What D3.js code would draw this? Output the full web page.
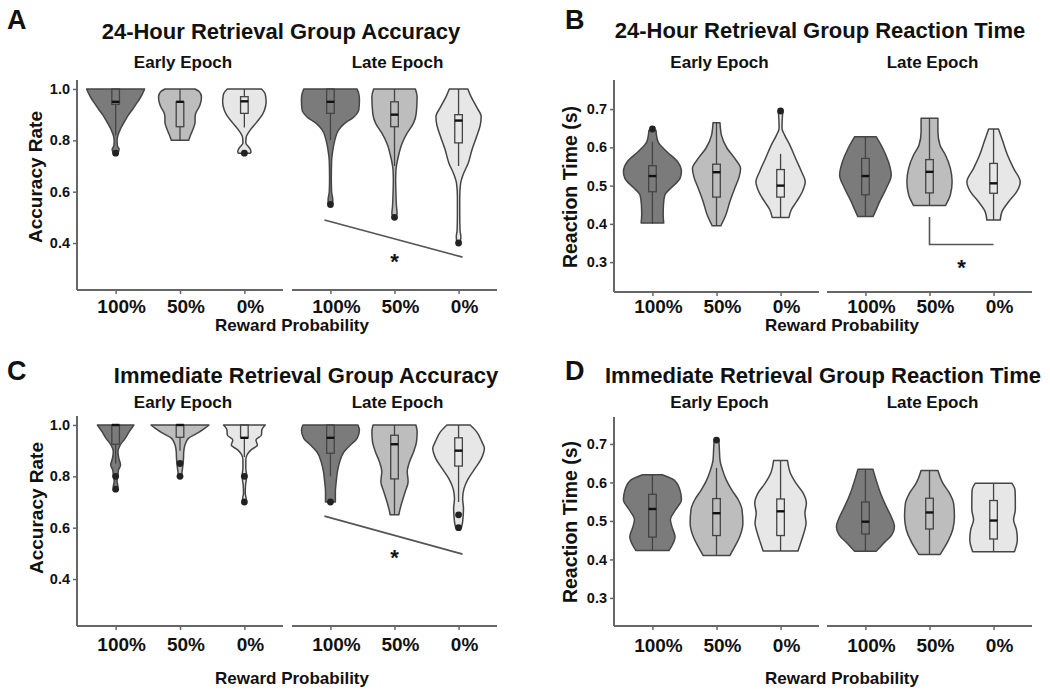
<!DOCTYPE html>
<html><head><meta charset="utf-8">
<script src="https://cdn.jsdelivr.net/npm/d3@7/dist/d3.min.js"></script>
<style>
html,body{margin:0;padding:0;background:#fff;}
svg text{font-family:"Liberation Sans",Arial,sans-serif;font-weight:bold;fill:#111;}
</style></head>
<body>
<svg id="chart" width="1050" height="693"></svg>
<script>
// ---------------- DATA ----------------
const rewardLevels = ["100%", "50%", "0%"];
const epochLevels = ["Early Epoch", "Late Epoch"];
const accuracyTicks = [0.4, 0.6, 0.8, 1.0];
const rtTicks = [0.3, 0.4, 0.5, 0.6, 0.7];
const panelTitles = ["24-Hour Retrieval Group Accuracy", "24-Hour Retrieval Group Reaction Time",
                     "Immediate Retrieval Group Accuracy", "Immediate Retrieval Group Reaction Time"];
const panelLetters = ["A", "B", "C", "D"];
const xTitle = "Reward Probability";
const yTitles = ["Accuracy Rate", "Reaction Time (s)", "Accuracy Rate", "Reaction Time (s)"];

// violin density profiles [value, relative width]; order: Early 100/50/0, Late 100/50/0
const violinA = [
  [[1.0,1.0],[0.98,0.92],[0.96,0.82],[0.94,0.7],[0.92,0.58],[0.90,0.45],[0.88,0.34],[0.86,0.24],[0.84,0.15],[0.82,0.08],[0.80,0.05],[0.78,0.06],[0.765,0.12],[0.75,0.08]],
  [[1.0,0.52],[0.99,0.66],[0.97,0.74],[0.95,0.72],[0.93,0.66],[0.91,0.56],[0.89,0.52],[0.87,0.52],[0.85,0.47],[0.83,0.4],[0.81,0.33],[0.80,0.3]],
  [[1.0,0.59],[0.98,0.72],[0.95,0.75],[0.92,0.7],[0.9,0.62],[0.87,0.42],[0.84,0.2],[0.81,0.06],[0.79,0.05],[0.77,0.18],[0.755,0.23],[0.75,0.2]],
  [[1.0,0.92],[0.98,0.98],[0.957,1.0],[0.92,0.98],[0.89,0.8],[0.866,0.49],[0.84,0.28],[0.80,0.15],[0.76,0.08],[0.72,0.04],[0.65,0.03],[0.6,0.04],[0.57,0.08],[0.555,0.08],[0.548,0.04]],
  [[1.0,0.72],[0.97,0.78],[0.905,0.75],[0.866,0.65],[0.827,0.43],[0.788,0.26],[0.736,0.13],[0.684,0.05],[0.645,0.04],[0.593,0.05],[0.541,0.07],[0.515,0.09],[0.5,0.05]],
  [[1.0,0.32],[0.97,0.43],[0.93,0.62],[0.892,0.78],[0.86,0.75],[0.814,0.62],[0.762,0.46],[0.71,0.33],[0.67,0.17],[0.632,0.07],[0.58,0.04],[0.515,0.04],[0.45,0.05],[0.424,0.08],[0.4,0.05]]
];
const violinB = [
  [[0.645,0.12],[0.615,0.19],[0.589,0.49],[0.563,0.86],[0.537,1.0],[0.519,0.95],[0.493,0.63],[0.476,0.43],[0.45,0.38],[0.423,0.37],[0.402,0.39]],
  [[0.664,0.12],[0.632,0.17],[0.597,0.37],[0.571,0.63],[0.545,0.83],[0.523,0.78],[0.493,0.63],[0.458,0.46],[0.423,0.32],[0.395,0.15]],
  [[0.695,0.08],[0.676,0.06],[0.65,0.05],[0.632,0.14],[0.606,0.32],[0.571,0.52],[0.537,0.72],[0.51,0.85],[0.484,0.75],[0.458,0.55],[0.437,0.37],[0.417,0.29]],
  [[0.628,0.37],[0.597,0.6],[0.563,0.79],[0.528,0.89],[0.493,0.72],[0.458,0.49],[0.432,0.34],[0.419,0.26]],
  [[0.676,0.29],[0.641,0.29],[0.606,0.36],[0.58,0.55],[0.545,0.72],[0.51,0.78],[0.476,0.72],[0.448,0.55]],
  [[0.648,0.17],[0.615,0.32],[0.58,0.48],[0.545,0.69],[0.51,0.92],[0.484,0.8],[0.458,0.52],[0.432,0.29],[0.41,0.23]]
];
const violinC = [
  [[1.0,0.63],[0.974,0.47],[0.948,0.33],[0.922,0.16],[0.896,0.08],[0.87,0.11],[0.844,0.17],[0.825,0.1],[0.805,0.08],[0.78,0.05],[0.76,0.08],[0.75,0.05]],
  [[1.0,1.0],[0.987,0.85],[0.968,0.6],[0.948,0.29],[0.922,0.17],[0.896,0.13],[0.87,0.12],[0.844,0.1],[0.825,0.08],[0.8,0.05]],
  [[1.0,0.72],[0.98,0.6],[0.961,0.59],[0.942,0.4],[0.922,0.45],[0.903,0.23],[0.883,0.09],[0.864,0.05],[0.831,0.05],[0.8,0.08],[0.766,0.04],[0.734,0.03],[0.714,0.06],[0.7,0.04]],
  [[1.0,0.95],[0.98,1.0],[0.948,0.92],[0.922,0.69],[0.896,0.47],[0.857,0.32],[0.818,0.24],[0.779,0.2],[0.74,0.17],[0.7,0.17]],
  [[1.0,0.74],[0.974,0.78],[0.935,0.76],[0.896,0.66],[0.857,0.52],[0.818,0.44],[0.779,0.47],[0.74,0.37],[0.701,0.26],[0.662,0.17],[0.65,0.15]],
  [[1.0,0.4],[0.974,0.62],[0.935,0.8],[0.909,0.89],[0.87,0.79],[0.831,0.57],[0.792,0.34],[0.753,0.19],[0.714,0.14],[0.675,0.17],[0.649,0.16],[0.623,0.14],[0.6,0.1]]
];
const violinD = [
  [[0.62,0.34],[0.606,0.75],[0.58,0.95],[0.555,1.0],[0.529,0.8],[0.503,0.62],[0.481,0.69],[0.459,0.78],[0.438,0.69],[0.423,0.57]],
  [[0.71,0.08],[0.684,0.1],[0.658,0.12],[0.632,0.21],[0.606,0.34],[0.58,0.53],[0.555,0.75],[0.529,0.88],[0.494,0.91],[0.459,0.8],[0.433,0.63],[0.41,0.46]],
  [[0.657,0.24],[0.624,0.34],[0.598,0.53],[0.572,0.78],[0.546,0.89],[0.52,0.84],[0.494,0.88],[0.468,0.8],[0.442,0.69],[0.422,0.6]],
  [[0.634,0.26],[0.606,0.37],[0.572,0.52],[0.537,0.72],[0.511,0.89],[0.485,1.0],[0.464,0.91],[0.442,0.63],[0.421,0.37]],
  [[0.631,0.29],[0.598,0.46],[0.572,0.69],[0.546,0.83],[0.511,0.86],[0.477,0.8],[0.446,0.63],[0.424,0.46],[0.413,0.37]],
  [[0.598,0.63],[0.58,0.74],[0.555,0.75],[0.529,0.75],[0.503,0.69],[0.477,0.79],[0.451,0.82],[0.42,0.72]]
];

// box stats [lower whisker, q1, median, q3, upper whisker]
const boxA = [[0.82,0.94,0.95,1.0,1.0],[0.80,0.853,0.95,0.95,1.0],[0.85,0.905,0.952,0.97,1.0],
              [0.80,0.905,0.95,1.0,1.0],[0.70,0.853,0.90,0.95,1.0],[0.70,0.79,0.877,0.90,1.0]];
const boxB = [[0.40,0.484,0.525,0.552,0.615],[0.395,0.47,0.535,0.556,0.664],[0.417,0.47,0.50,0.542,0.583],
              [0.419,0.476,0.525,0.571,0.628],[0.448,0.481,0.536,0.568,0.676],[0.41,0.48,0.506,0.558,0.648]];
const boxC = [[0.85,0.925,1.0,1.0,1.0],[0.90,0.952,1.0,1.0,1.0],[0.875,0.95,0.95,1.0,1.0],
              [0.80,0.89,0.95,1.0,1.0],[0.65,0.79,0.925,0.96,1.0],[0.70,0.84,0.90,0.95,1.0]];
const boxD = [[0.423,0.458,0.531,0.569,0.62],[0.41,0.462,0.52,0.558,0.638],[0.422,0.462,0.525,0.557,0.657],
              [0.421,0.466,0.498,0.549,0.634],[0.413,0.479,0.522,0.559,0.63],[0.42,0.453,0.501,0.553,0.598]];

const outliersA = [[0.75],[],[0.75],[0.55],[0.5],[0.4]];
const outliersB = [[0.648],[],[0.695],[],[],[]];
const outliersC = [[0.8,0.75],[0.85,0.8],[0.8,0.7],[0.7],[],[0.65,0.6]];
const outliersD = [[],[0.71],[],[],[],[]];

// significance annotations (late epoch)
const sigA = {from:["100%",0.49], to:["0%",0.345], star:0.35};
const sigB = {from:["50%",0.418], corner:["50%",0.346], to:["0%",0.346], star:0.30};
const sigC = {from:["100%",0.645], to:["0%",0.497], star:0.505};

// ---------------- LAYOUT ----------------
const rewardFills = ["#7b7b7b", "#bdbdbd", "#e7e7e7"];
const panels = [
  {violins:violinA, boxes:boxA, outs:outliersA, ticks:accuracyTicks, dom:[0.217,1.035], top:80, bottom:290, left:77, facets:[[77,283],[292,497]],
   letter:[7,29], title:[281,39], facetY:68, tickY:313, xTitle:[292,331], yTitle:[42,177,19], sig:sigA},
  {violins:violinB, boxes:boxB, outs:outliersB, ticks:rtTicks, dom:[0.222,0.776], top:80, bottom:292, left:614, facets:[[614,819],[827,1032]],
   letter:[565,29], title:[820,38], facetY:68, tickY:313, xTitle:[842,331], yTitle:[577,187,19.5], sig:sigB},
  {violins:violinC, boxes:boxC, outs:outliersC, ticks:accuracyTicks, dom:[0.217,1.035], top:416, bottom:626, left:77, facets:[[77,283],[292,497]],
   letter:[7,380], title:[306,383], facetY:408, tickY:651, xTitle:[292,684], yTitle:[43,508,19], sig:sigC},
  {violins:violinD, boxes:boxD, outs:outliersD, ticks:rtTicks, dom:[0.227,0.77], top:417, bottom:626, left:614, facets:[[614,819],[827,1032]],
   letter:[565,380], title:[823,383], facetY:408, tickY:652, xTitle:[842,684], yTitle:[577,522,19.5], sig:null}
];

const svg = d3.select("#chart");
const halfW = d3.scaleLinear().domain([0,1]).range([0,29]);
const axisColor = "#666";
const fmt = d3.format(".1f");

panels.forEach((p, pi) => {
  const g = svg.append("g");
  const y = d3.scaleLinear().domain(p.dom).range([p.bottom, p.top]);
  const xs = p.facets.map(f => d3.scalePoint().domain(rewardLevels).range(f).padding(0.6));

  // letter & title
  g.append("text").attr("x", p.letter[0]).attr("y", p.letter[1]).attr("font-size", 27).text(panelLetters[pi]);
  g.append("text").attr("x", p.title[0]).attr("y", p.title[1]).attr("text-anchor","middle").attr("font-size", 22).text(panelTitles[pi]);

  // y axis
  const yAxis = d3.axisLeft(y).tickValues(p.ticks).tickFormat(fmt).tickSize(4).tickPadding(3);
  const ya = g.append("g").attr("transform", `translate(${p.left},0)`).call(yAxis);
  ya.select(".domain").attr("d", `M0,${p.top}V${p.bottom}`).attr("stroke", axisColor).attr("stroke-width", 2);
  ya.selectAll(".tick line").attr("stroke", axisColor).attr("stroke-width", 1.5);
  ya.selectAll(".tick text").attr("font-size", 14.5).attr("fill", "#111").attr("font-family", "Liberation Sans, Arial, sans-serif").attr("font-weight","bold");

  // y title
  g.append("text").attr("transform", `translate(${p.yTitle[0]},${p.yTitle[1]}) rotate(-90)`)
    .attr("text-anchor","middle").attr("font-size", p.yTitle[2]).text(yTitles[pi]);

  // x title
  g.append("text").attr("x", p.xTitle[0]).attr("y", p.xTitle[1]).attr("text-anchor","middle")
    .attr("font-size", 17).text(xTitle);

  // facets
  xs.forEach((x, fi) => {
    const f = p.facets[fi];
    const xAxis = d3.axisBottom(x).tickSize(4).tickPadding(6);
    const xa = g.append("g").attr("transform", `translate(0,${p.bottom})`).call(xAxis);
    xa.select(".domain").attr("d", `M${f[0]},0H${f[1]}`).attr("stroke", axisColor).attr("stroke-width", 2);
    xa.selectAll(".tick line").attr("stroke", axisColor).attr("stroke-width", 1.5);
    xa.selectAll(".tick text").remove();
    rewardLevels.forEach(r => {
      g.append("text").attr("x", x(r) + 6).attr("y", p.tickY).attr("text-anchor","middle")
        .attr("font-size", 19).text(r);
    });
    g.append("text").attr("x", (f[0]+f[1])/2 + 3).attr("y", p.facetY).attr("text-anchor","middle")
      .attr("font-size", 17).text(epochLevels[fi]);

    rewardLevels.forEach((r, ri) => {
      const idx = fi*3 + ri;
      const cx = x(r);
      const prof = p.violins[idx];
      const area = d3.area()
        .y(d => y(d[0]))
        .x0(d => cx - halfW(d[1]))
        .x1(d => cx + halfW(d[1]))
        .curve(d3.curveMonotoneY);
      const sorted = prof.slice().sort((a,b) => b[0]-a[0]);
      g.append("path").attr("d", area(sorted))
        .attr("fill", rewardFills[ri]).attr("stroke", "#454545").attr("stroke-width", 1.5)
        .attr("stroke-linejoin","round");

      // box plot
      const b = p.boxes[idx];
      const bw = 3.8;
      g.append("line").attr("x1", cx).attr("x2", cx).attr("y1", y(b[0])).attr("y2", y(b[1]))
        .attr("stroke", "#444").attr("stroke-width", 1.3);
      g.append("line").attr("x1", cx).attr("x2", cx).attr("y1", y(b[3])).attr("y2", y(b[4]))
        .attr("stroke", "#444").attr("stroke-width", 1.3);
      g.append("rect").attr("x", cx - bw).attr("width", bw*2)
        .attr("y", y(b[3])).attr("height", Math.max(0.5, y(b[1]) - y(b[3])))
        .attr("fill", "none").attr("stroke", "#444").attr("stroke-width", 1.3);
      g.append("line").attr("x1", cx - bw).attr("x2", cx + bw).attr("y1", y(b[2])).attr("y2", y(b[2]))
        .attr("stroke", "#111").attr("stroke-width", 2.4);

      // outliers
      p.outs[idx].forEach(o => {
        g.append("circle").attr("cx", cx).attr("cy", y(o)).attr("r", 3.4).attr("fill", "#222");
      });
    });
  });

  // significance
  const s = p.sig;
  if (s) {
    const xl = xs[1];
    if (s.corner) {
      g.append("path").attr("d", d3.line()([[xl(s.from[0]), y(s.from[1])],[xl(s.corner[0]), y(s.corner[1])],[xl(s.to[0]), y(s.to[1])]]))
        .attr("fill","none").attr("stroke","#555").attr("stroke-width",1.6);
      const sx = (xl(s.corner[0]) + xl(s.to[0]))/2;
      g.append("text").attr("x", sx).attr("y", y(s.star) + 13).attr("text-anchor","middle").attr("font-size", 22).text("*");
    } else {
      g.append("line").attr("x1", xl(s.from[0]) - 6).attr("y1", y(s.from[1]))
        .attr("x2", xl(s.to[0]) + 4).attr("y2", y(s.to[1]))
        .attr("stroke","#555").attr("stroke-width",1.6);
      g.append("text").attr("x", xl("50%")).attr("y", y(s.star) + 13).attr("text-anchor","middle").attr("font-size", 22).text("*");
    }
  }
});
</script>
</body></html>
